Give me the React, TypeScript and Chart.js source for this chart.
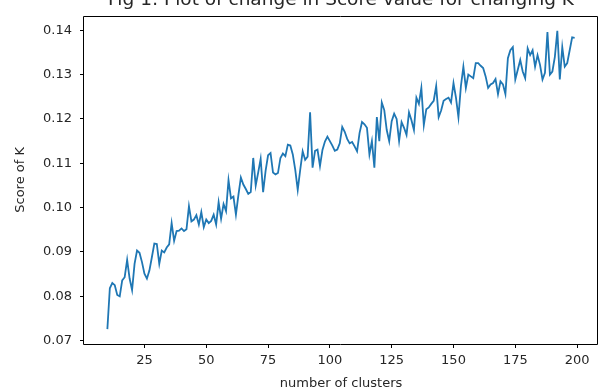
import React, { useEffect, useRef } from "react";
import { Chart, registerables } from "chart.js";

Chart.register(...registerables);

const TITLE = "Fig 1: Plot of change in Score value for changing K";
const X_LABEL = "number of clusters";
const Y_LABEL = "Score of K";
const FIRST_CLUSTER = 10;
const X_TICKS = [25, 50, 75, 100, 125, 150, 175, 200];
const Y_TICKS = [0.07, 0.08, 0.09, 0.1, 0.11, 0.12, 0.13, 0.14];

// Score of K for k = 10 .. 49
const scores10to49 = [
  0.0726, 0.0818, 0.083, 0.0825, 0.0803, 0.08, 0.0836, 0.0843, 0.0882, 0.084,
  0.0814, 0.0873, 0.0903, 0.0898, 0.0877, 0.0851, 0.084, 0.0858, 0.0888, 0.0919,
  0.0918, 0.0873, 0.0903, 0.0899, 0.091, 0.0917, 0.0965, 0.0925, 0.0947, 0.0948,
  0.0953, 0.0947, 0.0951, 0.1003, 0.0969, 0.0973, 0.0983, 0.0962, 0.099, 0.0956,
];
// k = 50 .. 89
const scores50to89 = [
  0.0973, 0.0965, 0.097, 0.0984, 0.0962, 0.1012, 0.0975, 0.1008, 0.0992, 0.1062,
  0.1021, 0.1025, 0.0984, 0.1028, 0.1068, 0.1052, 0.1042, 0.1031, 0.1035, 0.1112,
  0.105, 0.1079, 0.111, 0.1035, 0.1083, 0.1118, 0.1123, 0.1079, 0.1075, 0.1078,
  0.1112, 0.1122, 0.1116, 0.1142, 0.114, 0.112, 0.1085, 0.104, 0.1085, 0.1127,
];
// k = 90 .. 129
const scores90to129 = [
  0.1108, 0.1115, 0.1215, 0.109, 0.1128, 0.1131, 0.1094, 0.113, 0.1149, 0.116,
  0.115, 0.114, 0.1128, 0.1131, 0.1145, 0.1182, 0.1171, 0.1155, 0.1145, 0.1148,
  0.1138, 0.1127, 0.1168, 0.1193, 0.1188, 0.118, 0.112, 0.115, 0.109, 0.1204,
  0.115, 0.1237, 0.122, 0.1175, 0.115, 0.1195, 0.1212, 0.12, 0.115, 0.1193,
];
// k = 130 .. 169
const scores130to169 = [
  0.118, 0.1164, 0.1215, 0.1197, 0.1175, 0.1248, 0.1234, 0.127, 0.1186, 0.1222,
  0.1226, 0.1234, 0.1241, 0.1274, 0.1204, 0.1219, 0.1241, 0.1245, 0.1248, 0.1237,
  0.1281, 0.1248, 0.1204, 0.1274, 0.1318, 0.127, 0.13, 0.1296, 0.1292, 0.1326,
  0.1326, 0.132, 0.1315, 0.1296, 0.127, 0.1278, 0.1281, 0.129, 0.1256, 0.1285,
];
// k = 170 .. 199
const scores170to199 = [
  0.1278, 0.1256, 0.1337, 0.1355, 0.1362, 0.1289, 0.1311, 0.1333, 0.1307, 0.1292,
  0.1359, 0.1344, 0.1355, 0.1318, 0.1344, 0.1322, 0.1289, 0.1304, 0.1396, 0.13,
  0.1307, 0.134, 0.1399, 0.1289, 0.1362, 0.1318, 0.1326, 0.1355, 0.1384, 0.1383,
];

const scores = [
  ...scores10to49,
  ...scores50to89,
  ...scores90to129,
  ...scores130to169,
  ...scores170to199,
];
const clusters = scores.map((_, i) => FIRST_CLUSTER + i);

const FONT = "'DejaVu Sans', sans-serif";
const TEXT_COLOR = "#262626";

const framePlugin = {
  id: "frame",
  afterDraw(chart: any) {
    const { ctx, chartArea } = chart;
    const l = Math.round(chartArea.left) - 0.5;
    const t = Math.round(chartArea.top) + 0.5;
    const r = Math.round(chartArea.right) - 0.5;
    const b = Math.round(chartArea.bottom) + 0.5;
    ctx.save();
    ctx.strokeStyle = "#000";
    ctx.lineWidth = 1;
    ctx.beginPath();
    ctx.rect(l, t, r - l, b - t);
    ctx.stroke();
    ctx.restore();
  },
};

const titlePlugin = {
  id: "cutTitle",
  afterDraw(chart: any) {
    const { ctx, chartArea } = chart;
    ctx.save();
    ctx.font = `18.5px ${FONT}`;
    ctx.fillStyle = TEXT_COLOR;
    ctx.textAlign = "center";
    ctx.textBaseline = "alphabetic";
    ctx.fillText(TITLE, (chartArea.left + chartArea.right) / 2, 5);
    ctx.restore();
  },
};

export default function App() {
  const canvasRef = useRef<HTMLCanvasElement | null>(null);

  useEffect(() => {
    const canvas = canvasRef.current;
    if (!canvas) return;
    const chart = new Chart(canvas, {
      type: "line",
      data: {
        datasets: [
          {
            data: clusters.map((k, i) => ({ x: k, y: scores[i] })),
            borderColor: "#1f77b4",
            borderWidth: 1.8,
            pointRadius: 0,
            fill: false,
            tension: 0,
          },
        ],
      },
      options: {
        animation: false,
        responsive: false,
        devicePixelRatio: 1,
        events: [],
        layout: { padding: { top: 10, right: 1, left: 0, bottom: 0 } },
        plugins: {
          legend: { display: false },
          tooltip: { enabled: false },
          title: { display: false },
        },
        scales: {
          x: {
            type: "linear",
            min: 0.55,
            max: 208.45,
            afterBuildTicks: (scale: any) => {
              scale.ticks = X_TICKS.map((v) => ({ value: v }));
            },
            afterFit: (scale: any) => {
              scale.height = 48;
            },
            grid: {
              display: true,
              drawOnChartArea: false,
              drawTicks: true,
              tickLength: 4,
              color: "#000",
              lineWidth: 1,
            },
            border: { display: false },
            ticks: {
              color: TEXT_COLOR,
              font: { family: FONT, size: 13 },
              padding: 5,
              maxRotation: 0,
              autoSkip: false,
              callback: (v: any) => String(v),
            },
            title: {
              display: true,
              text: X_LABEL,
              color: TEXT_COLOR,
              font: { family: FONT, size: 13 },
              padding: { top: 0, bottom: 1 },
            },
          },
          y: {
            type: "linear",
            min: 0.069235,
            max: 0.143265,
            afterBuildTicks: (scale: any) => {
              scale.ticks = Y_TICKS.map((v) => ({ value: v }));
            },
            afterFit: (scale: any) => {
              scale.width = 84;
            },
            grid: {
              display: true,
              drawOnChartArea: false,
              drawTicks: true,
              tickLength: 4,
              color: "#000",
              lineWidth: 1,
            },
            border: { display: false },
            ticks: {
              color: TEXT_COLOR,
              font: { family: FONT, size: 13 },
              padding: 8,
              autoSkip: false,
              callback: (v: any) => Number(v).toFixed(2),
            },
            title: {
              display: true,
              text: Y_LABEL,
              color: TEXT_COLOR,
              font: { family: FONT, size: 13 },
              padding: { top: 13, bottom: 0 },
            },
          },
        },
      },
      plugins: [framePlugin, titlePlugin],
    });
    return () => chart.destroy();
  }, []);

  return (
    <div style={{ position: "fixed", left: 0, top: 0, width: 599, height: 392, background: "#fff" }}>
      <canvas ref={canvasRef} width={599} height={392} style={{ width: 599, height: 392, display: "block" }} />
    </div>
  );
}
